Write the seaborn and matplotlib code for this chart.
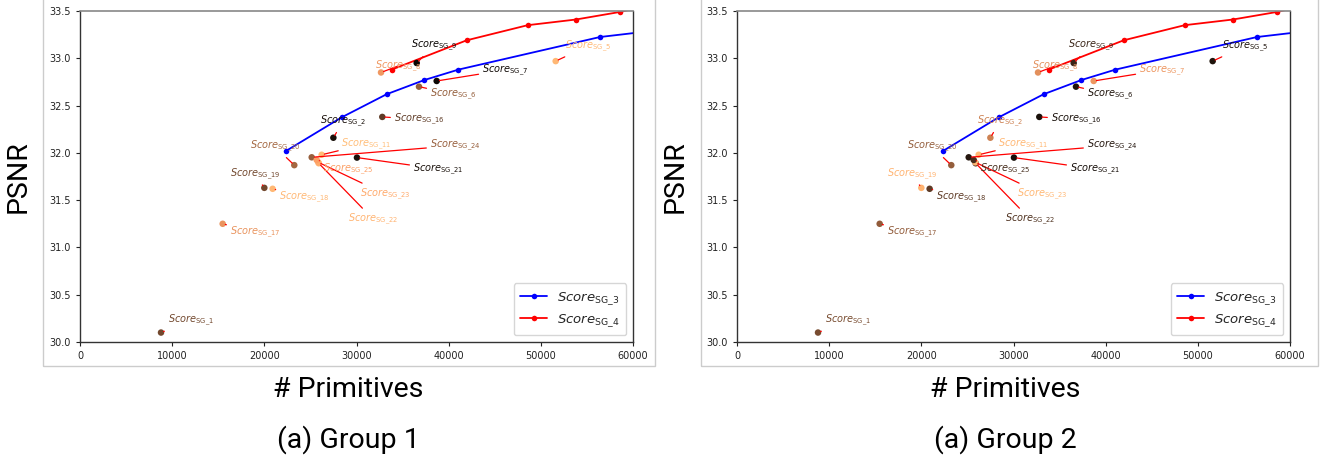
import matplotlib.pyplot as plt
import matplotlib as mpl
import seaborn as sns
from matplotlib.patches import Rectangle

sns.set_style("ticks")
plt.rcParams['font.family'] = ['DejaVu Sans']
plt.rcParams['mathtext.fontset'] = 'dejavusans'

# Curves (same for both groups)
sg3_x = [22350, 28380, 33270, 37360, 41050, 56420, 63000]
sg3_y = [32.02, 32.375, 32.62, 32.77, 32.88, 33.225, 33.30]
sg4_x = [33820, 41950, 48570, 53810, 58590, 63500]
sg4_y = [32.88, 33.19, 33.35, 33.41, 33.49, 33.60]

# Scattered single configurations
names = ['1', '2', '5', '6', '7', '8', '9', '11', '16', '17', '18', '19',
         '20', '21', '22', '23', '24', '25']
prims = [8790, 27490, 51610, 36780, 38700, 32660, 36530, 26220, 32800, 15480,
         20900, 20000, 23250, 30050, 25900, 25860, 25140, 25680]
psnr = [30.10, 32.16, 32.97, 32.70, 32.76, 32.85, 32.95, 31.98, 32.38, 31.25,
        31.62, 31.63, 31.87, 31.95, 31.89, 31.90, 31.953, 31.925]
label_x = [12010, 28530, 55120, 40470, 46110, 34500, 38410, 31110, 36780, 18990,
           24340, 18990, 21160, 38840, 31790, 33090, 40690, 29080]
label_y = [30.225, 32.33, 33.13, 32.622, 32.876, 32.918, 33.133, 32.094, 32.355, 31.16,
           31.53, 31.776, 32.065, 31.83, 31.30, 31.565, 32.076, 31.83]

# copper colormap level of each point, per group
shade_g1 = [0.36, 0.08, 0.92, 0.47, 0.05, 0.76, 0.03, 0.95, 0.30, 0.74,
            0.92, 0.36, 0.52, 0.08, 0.90, 0.85, 0.48, 0.80]
shade_g2 = [0.38, 0.65, 0.10, 0.10, 0.75, 0.72, 0.18, 0.92, 0.08, 0.46,
            0.30, 0.90, 0.47, 0.07, 0.25, 0.92, 0.12, 0.22]

titles = ['(a) Group 1', '(a) Group 2']

cmap = mpl.colormaps['copper']

fig = plt.figure(figsize=(13.2, 4.65), dpi=100)

# panel frames
for x0, w in [(43, 612), (701, 617)]:
    fig.patches.append(Rectangle((x0 / 1320, 1 - 366 / 465), w / 1320, 0.85,
                                 transform=fig.transFigure, fill=False,
                                 edgecolor='#cccccc', lw=1))

lefts = [80 / 1320, 737 / 1320]
for i, shades in enumerate([shade_g1, shade_g2]):
    ax = fig.add_axes([lefts[i], 1 - 342 / 465, 553 / 1320, 331 / 465])
    cols = [cmap(s) for s in shades]

    sns.lineplot(x=sg3_x, y=sg3_y, ax=ax, color='blue', marker='o', markersize=4,
                 markeredgewidth=0, sort=False, lw=1.3, label=r'$\mathit{Score}_{\mathrm{SG\_3}}$')
    sns.lineplot(x=sg4_x, y=sg4_y, ax=ax, color='red', marker='o', markersize=4,
                 markeredgewidth=0, sort=False, lw=1.3, label=r'$\mathit{Score}_{\mathrm{SG\_4}}$')
    sns.scatterplot(x=prims, y=psnr, hue=names, palette=cols, ax=ax, s=22,
                    linewidth=0, legend=False, zorder=3)

    for n, px, py, tx, ty, c in zip(names, prims, psnr, label_x, label_y, cols):
        ax.annotate(r'$\mathit{Score}_{\mathrm{SG\_%s}}$' % n, xy=(px, py), xytext=(tx, ty),
                    ha='center', va='center', fontsize=7, color=c,
                    arrowprops=dict(arrowstyle='-', color='red', lw=0.9,
                                    shrinkA=0, shrinkB=2))

    ax.set_xlim(0, 60000)
    ax.set_ylim(30.0, 33.5)
    ax.set_xticks(range(0, 60001, 10000))
    ax.set_yticks([30.0, 30.5, 31.0, 31.5, 32.0, 32.5, 33.0, 33.5])
    ax.tick_params(labelsize=7, length=3, width=0.8, colors='#222222')
    for side in ['left', 'bottom', 'right']:
        ax.spines[side].set_color('#333333')
        ax.spines[side].set_linewidth(1)
    ax.spines['top'].set_color('#888888')
    ax.spines['top'].set_linewidth(1.2)
    ax.set_xlabel('')
    ax.set_ylabel('')
    ax.legend(loc='lower right', fontsize=9.5, handlelength=2.0, borderpad=0.5,
              labelspacing=0.4)

    cx = (lefts[i] * 1320 + 553 / 2 - 8) / 1320
    fig.text(cx, 1 - 389 / 465, '# Primitives', ha='center', va='center',
             fontsize=20.5, family='Roboto', color='black')
    fig.text(cx, 1 - 440 / 465, titles[i], ha='center', va='center',
             fontsize=20.5, family='Roboto', color='black')
    fig.text((lefts[i] * 1320 - 62) / 1320, 1 - 177 / 465, 'PSNR', ha='center', va='center',
             rotation=90, fontsize=20.5, family='Roboto', color='black')

fig.savefig('out.png', dpi=100)
